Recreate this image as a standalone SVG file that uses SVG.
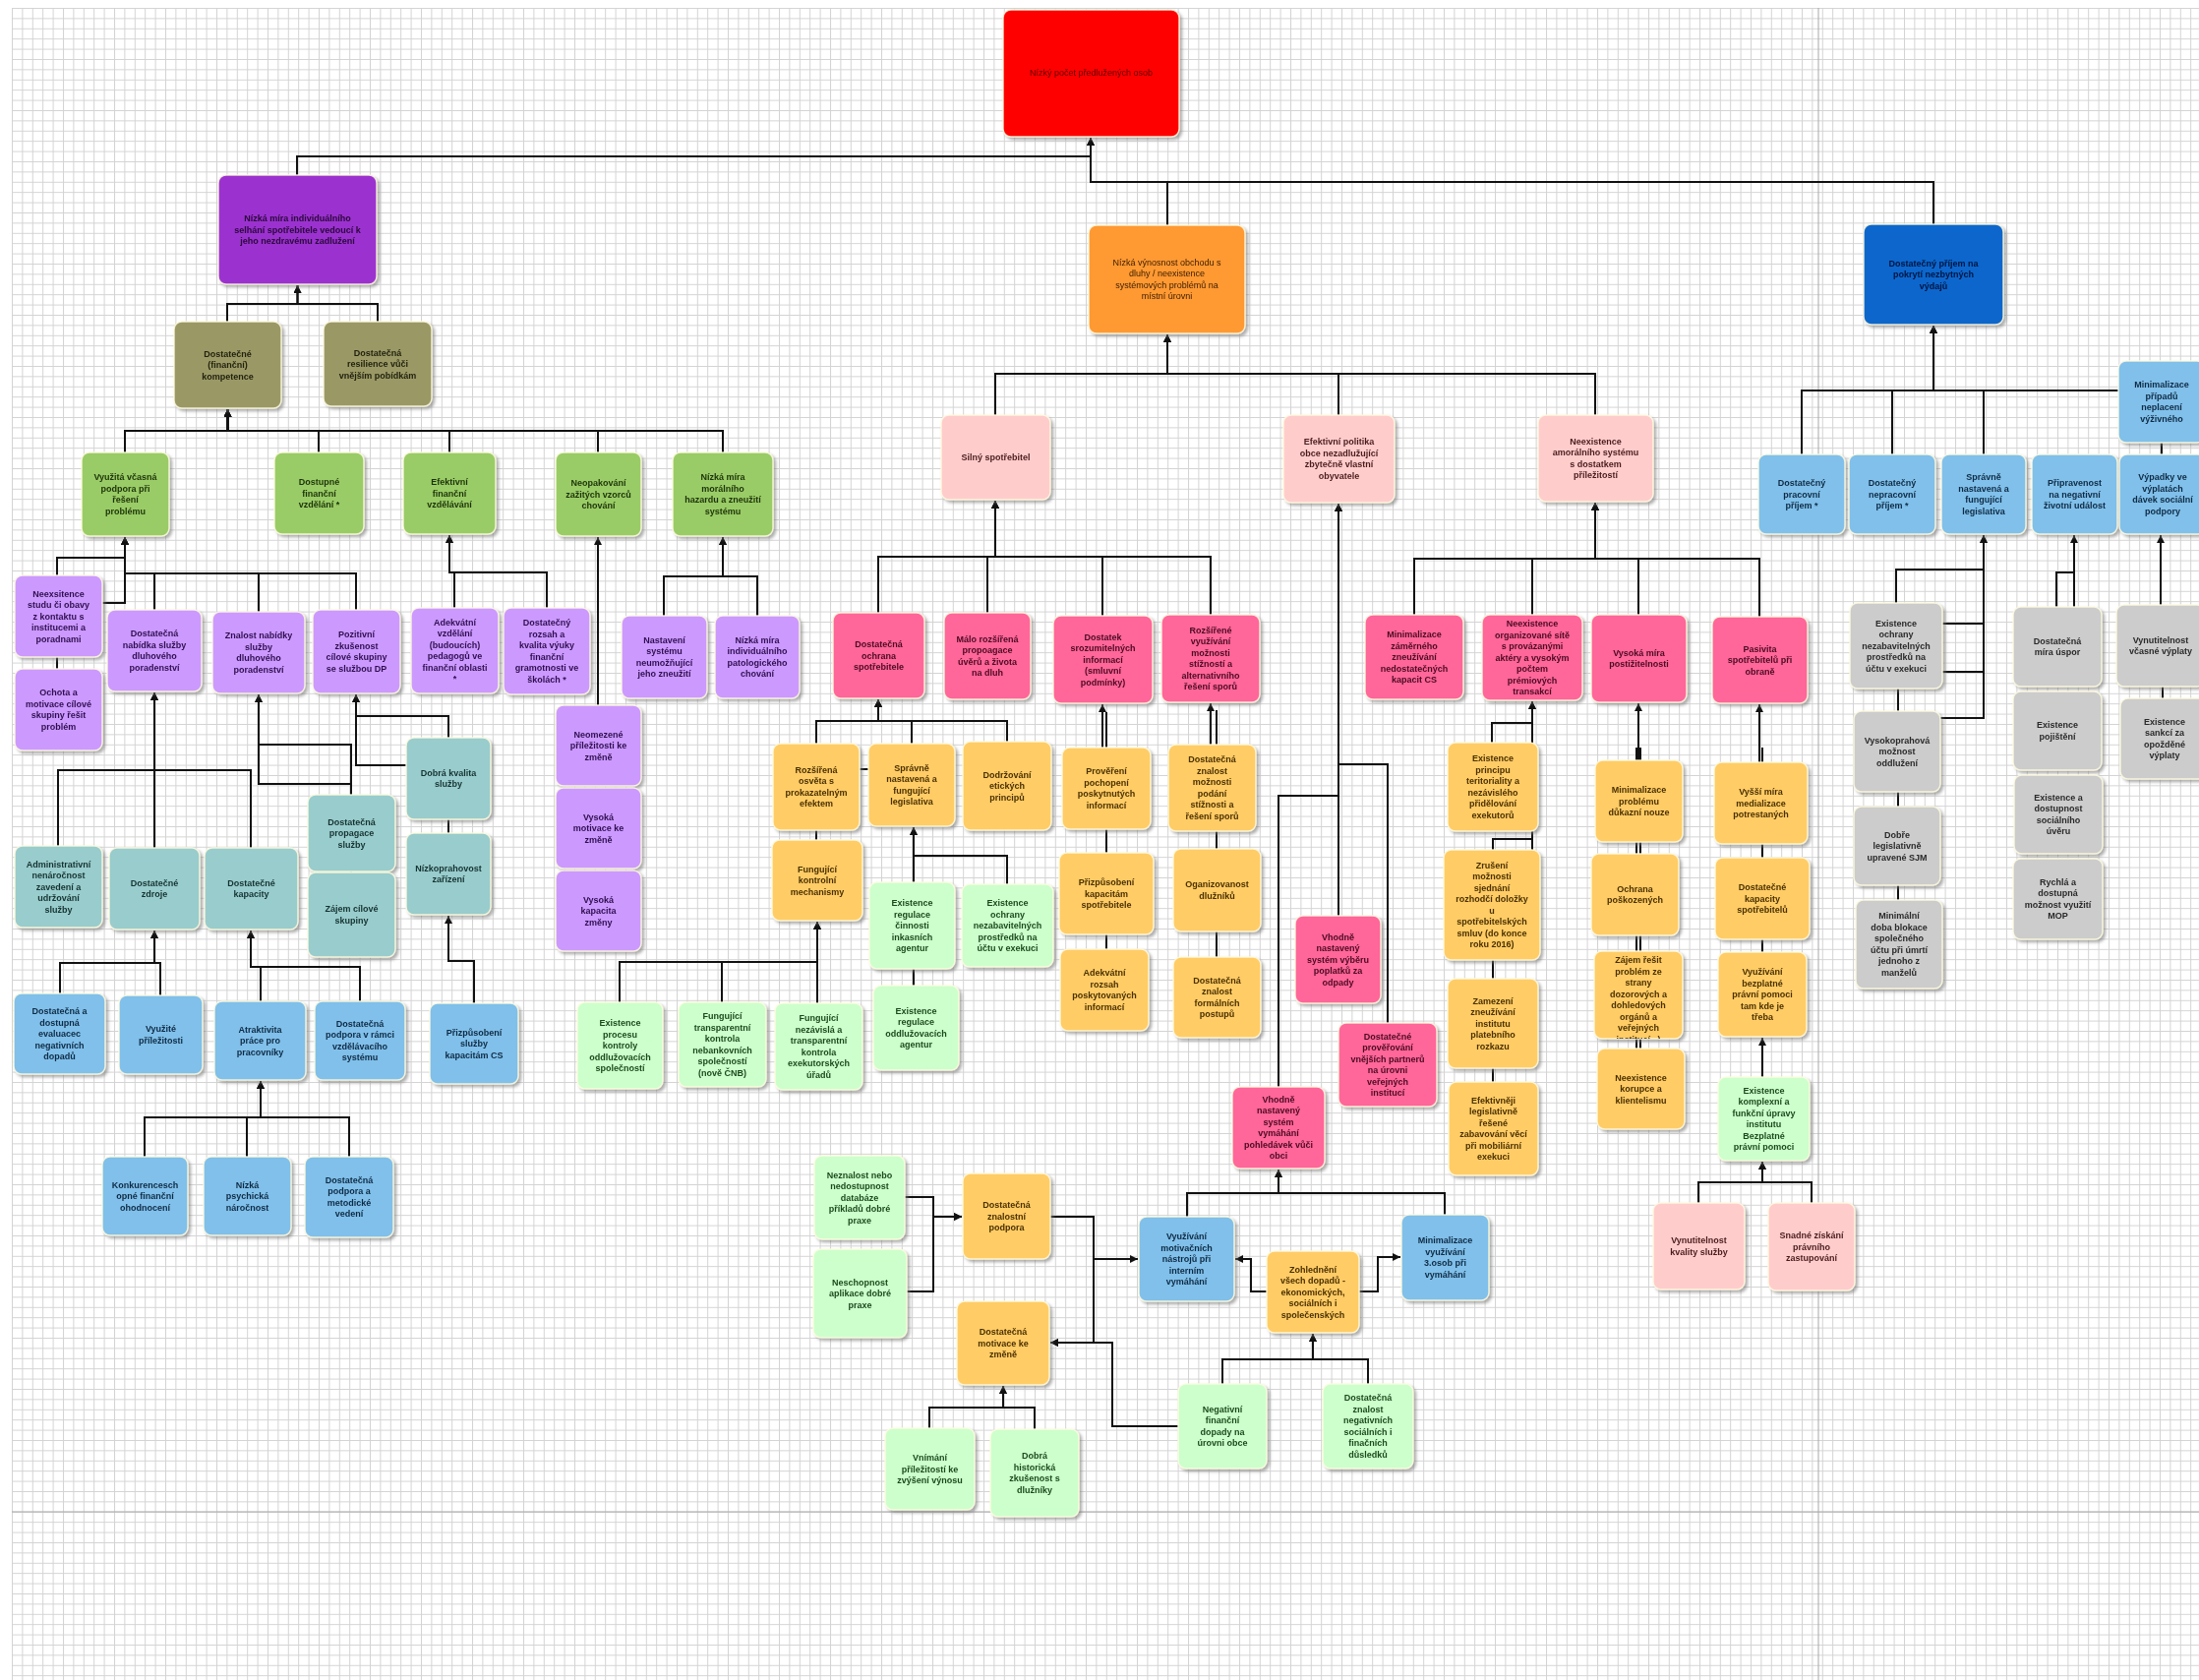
<svg xmlns="http://www.w3.org/2000/svg" width="2236" height="1708" viewBox="0 0 2236 1708">
<style>
text{font-family:"Liberation Sans",Arial,sans-serif;font-size:9px;font-weight:bold;text-anchor:middle}
.nd{filter:url(#sh)}
.nd rect{rx:8px;ry:8px;stroke:#fffbe0;stroke-opacity:.85;stroke-width:1.5}
.red rect{fill:#ff0000}.red text{fill:#5a0000;font-weight:normal}
.pur rect{fill:#9b30cf}.pur text{fill:#2a0a3a}
.oli rect{fill:#9a9966}.oli text{fill:#23230f}
.grn rect{fill:#99cc66}.grn text{fill:#1e3309}
.lpu rect{fill:#cc99ff}.lpu text{fill:#2f1050}
.tea rect{fill:#99cccc}.tea text{fill:#163333}
.lbl rect{fill:#80c0ea}.lbl text{fill:#0f2a44}
.org rect{fill:#ff9933}.org text{fill:#3d2000;font-weight:normal}
.dbl rect{fill:#0a66cc}.dbl text{fill:#001640}
.lpk rect{fill:#ffcccc}.lpk text{fill:#4a1c1c}
.hpk rect{fill:#ff6699}.hpk text{fill:#4a0a22}
.lor rect{fill:#ffcc66}.lor text{fill:#4a3000}
.lgr rect{fill:#ccffcc}.lgr text{fill:#1d4a1d}
.gry rect{fill:#cccccc}.gry text{fill:#2a2a2a}
#conn path{fill:none;stroke:#111;stroke-width:2}
#conn path.a{marker-end:url(#ar)}
</style>
<defs>
<pattern id="grid" x="12" y="8" width="10.4" height="10.4" patternUnits="userSpaceOnUse"><path d="M0,0.5H10.4M0.5,0V10.4" stroke="#d3d3d3" stroke-width="1" fill="none"/></pattern>
<filter id="sh" x="-10%" y="-10%" width="130%" height="130%"><feDropShadow dx="2.5" dy="2.5" stdDeviation="1.5" flood-color="#777" flood-opacity="0.6"/></filter>
<marker id="ar" viewBox="0 0 8 8" refX="8" refY="4" markerWidth="8" markerHeight="8" markerUnits="userSpaceOnUse" orient="auto"><path d="M0,0L8,4L0,8z" fill="#111"/></marker>
<clipPath id="c72"><rect x="1621" y="967" width="90" height="89"/></clipPath>
</defs>
<rect width="2236" height="1708" fill="#fff"/>
<rect x="12" y="8" width="2224" height="1700" fill="url(#grid)"/>
<path d="M1849,8V1708M12,1537H2236" stroke="#a8a8a8" stroke-width="1" fill="none"/>

<g id="conn">
<path class="a" d="M302,178V159H1109V140"/>
<path class="a" d="M1187,229V185H1109V140"/>
<path class="a" d="M1966,228V185H1109V140"/>
<path class="a" d="M231,327V309H302.5V290"/>
<path class="a" d="M384,327V309H302.5V290"/>
<path class="a" d="M127,460V438H231.5V416"/>
<path class="a" d="M324,460V438H231.5V416"/>
<path class="a" d="M457,460V438H231.5V416"/>
<path class="a" d="M608,460V438H231.5V416"/>
<path class="a" d="M735,460V438H231.5V416"/>
<path class="a" d="M58,680V567H127V546"/>
<path class="a" d="M104,613H127V546"/>
<path class="a" d="M157,620V583H127V546"/>
<path class="a" d="M263,622V583H127V546"/>
<path class="a" d="M362,620V583H127V546"/>
<path class="a" d="M462,618V582H457V544"/>
<path class="a" d="M556,618V582H457V544"/>
<path class="a" d="M608,717V546"/>
<path class="a" d="M675,626V586H735V546"/>
<path class="a" d="M770,626V586H735V546"/>
<path class="a" d="M59,860V783H157V704"/>
<path class="a" d="M157,862V704"/>
<path class="a" d="M255,862V783H157V704"/>
<path class="a" d="M357,808V757H263V706"/>
<path class="a" d="M357,887V797H263V706"/>
<path class="a" d="M413,778H362V706"/>
<path class="a" d="M456,847V728H362V706"/>
<path class="a" d="M482,1020V977H456V931"/>
<path class="a" d="M61,1010V979H157V946"/>
<path class="a" d="M163,1012V979H157V946"/>
<path class="a" d="M265,1018V983H255V946"/>
<path class="a" d="M366,1018V983H255V946"/>
<path class="a" d="M147,1176V1136H265V1099"/>
<path class="a" d="M251,1176V1136H265V1099"/>
<path class="a" d="M355,1176V1136H265V1099"/>
<path class="a" d="M1012,422V380H1187V340"/>
<path class="a" d="M1361,422V380H1187V340"/>
<path class="a" d="M1622,422V380H1187V340"/>
<path class="a" d="M893,623V566H1012V509"/>
<path class="a" d="M1004,623V566H1012V509"/>
<path class="a" d="M1121,626V566H1012V509"/>
<path class="a" d="M1231,625V566H1012V509"/>
<path class="a" d="M830,854V733H893V711"/>
<path class="a" d="M927,756V733H893V711"/>
<path class="a" d="M1024,754V733H893V711"/>
<path d="M874,782H883"/>
<path class="a" d="M630,1019V978H831V937"/>
<path class="a" d="M734,1019V978H831V937"/>
<path class="a" d="M831,1020V937"/>
<path class="a" d="M929,1002V841"/>
<path class="a" d="M1024,899V870H929V841"/>
<path class="a" d="M1121,760V716"/>
<path d="M1125,965V724"/>
<path class="a" d="M1231,757V715"/>
<path d="M1237,973V722"/>
<path class="a" d="M1361,931V512"/>
<path class="a" d="M1411,1040V777H1361V512"/>
<path class="a" d="M1300,1105V809H1361V512"/>
<path class="a" d="M1438,625V568H1622V511"/>
<path class="a" d="M1558,625V568H1622V511"/>
<path class="a" d="M1666,625V568H1622V511"/>
<path class="a" d="M1789,627V568H1622V511"/>
<path class="a" d="M1517,755V735H1558V713"/>
<path class="a" d="M1558,864V713"/>
<path d="M1518,1100V853H1558"/>
<path class="a" d="M1666,773V715"/>
<path d="M1664,1066V760"/>
<path d="M1668,1066V760"/>
<path class="a" d="M1789,775V716"/>
<path d="M1792,968V760"/>
<path class="a" d="M1792,1095V1055"/>
<path class="a" d="M1727,1223V1202H1792V1181"/>
<path class="a" d="M1842,1223V1202H1792V1181"/>
<path class="a" d="M920,1217H949V1237H978"/>
<path class="a" d="M922,1313H949V1237H978"/>
<path class="a" d="M1068,1237H1112V1280H1157"/>
<path class="a" d="M1068,1237H1112V1365H1068"/>
<path class="a" d="M1198,1450H1131V1365H1068"/>
<path class="a" d="M1288,1313H1272V1280H1256"/>
<path class="a" d="M1382,1313H1401V1278H1424"/>
<path class="a" d="M1207,1237V1213H1300V1189"/>
<path class="a" d="M1469,1235V1213H1300V1189"/>
<path class="a" d="M1243,1407V1382H1335V1356"/>
<path class="a" d="M1391,1407V1382H1335V1356"/>
<path class="a" d="M945,1452V1431H1020V1409"/>
<path class="a" d="M1052,1453V1431H1020V1409"/>
<path class="a" d="M1832,462V397H1966V331"/>
<path class="a" d="M1924,462V397H1966V331"/>
<path class="a" d="M2017,462V397H1966V331"/>
<path class="a" d="M2154,397H1966V331"/>
<path d="M2198,462V448"/>
<path class="a" d="M1928,613V579H2017V544"/>
<path d="M1975,634H2017M1975,683H2017"/>
<path class="a" d="M1973,730H2017V544"/>
<path d="M1930,915V700"/>
<path class="a" d="M2109,617V544"/>
<path d="M2091,617V582H2109"/>
<path class="a" d="M2197,615V544"/>
<path d="M2199,710V698"/>
</g>

<g id="n1" class="nd red"><rect x="1020" y="10" width="179" height="129"/><text x="1109.5" y="77">Nízký počet předlužených osob</text></g>
<g id="n2" class="nd pur"><rect x="222" y="178" width="161" height="111"/><text x="302.5" y="225"><tspan x="302.5">Nízká míra individuálního</tspan><tspan x="302.5" dy="11.5">selhání spotřebitele vedoucí k</tspan><tspan x="302.5" dy="11.5">jeho nezdravému zadlužení</tspan></text></g>
<g id="n3" class="nd org"><rect x="1107" y="229" width="159" height="110"/><text x="1186.5" y="269.75"><tspan x="1186.5">Nízká výnosnost obchodu s</tspan><tspan x="1186.5" dy="11.5">dluhy / neexistence</tspan><tspan x="1186.5" dy="11.5">systémových problémů na</tspan><tspan x="1186.5" dy="11.5">místní úrovni</tspan></text></g>
<g id="n4" class="nd dbl"><rect x="1895" y="228" width="142" height="102"/><text x="1966" y="270.5"><tspan x="1966">Dostatečný příjem na</tspan><tspan x="1966" dy="11.5">pokrytí nezbytných</tspan><tspan x="1966" dy="11.5">výdajů</tspan></text></g>
<g id="n5" class="nd oli"><rect x="177" y="327" width="109" height="88"/><text x="231.5" y="362.5"><tspan x="231.5">Dostatečné</tspan><tspan x="231.5" dy="11.5">(finanční)</tspan><tspan x="231.5" dy="11.5">kompetence</tspan></text></g>
<g id="n6" class="nd oli"><rect x="329" y="327" width="110" height="86"/><text x="384" y="361.5"><tspan x="384">Dostatečná</tspan><tspan x="384" dy="11.5">resilience vůči</tspan><tspan x="384" dy="11.5">vnějším pobídkám</tspan></text></g>
<g id="n7" class="nd grn"><rect x="83" y="460" width="89" height="85"/><text x="127.5" y="488.25"><tspan x="127.5">Využitá včasná</tspan><tspan x="127.5" dy="11.5">podpora při</tspan><tspan x="127.5" dy="11.5">řešení</tspan><tspan x="127.5" dy="11.5">problému</tspan></text></g>
<g id="n8" class="nd grn"><rect x="279" y="460" width="91" height="83"/><text x="324.5" y="493"><tspan x="324.5">Dostupné</tspan><tspan x="324.5" dy="11.5">finanční</tspan><tspan x="324.5" dy="11.5">vzdělání *</tspan></text></g>
<g id="n9" class="nd grn"><rect x="410" y="460" width="94" height="83"/><text x="457" y="493"><tspan x="457">Efektivní</tspan><tspan x="457" dy="11.5">finanční</tspan><tspan x="457" dy="11.5">vzdělávání</tspan></text></g>
<g id="n10" class="nd grn"><rect x="565" y="460" width="87" height="85"/><text x="608.5" y="494"><tspan x="608.5">Neopakování</tspan><tspan x="608.5" dy="11.5">zažitých vzorců</tspan><tspan x="608.5" dy="11.5">chování</tspan></text></g>
<g id="n11" class="nd grn"><rect x="684" y="460" width="102" height="85"/><text x="735" y="488.25"><tspan x="735">Nízká míra</tspan><tspan x="735" dy="11.5">morálního</tspan><tspan x="735" dy="11.5">hazardu a zneužití</tspan><tspan x="735" dy="11.5">systému</tspan></text></g>
<g id="n12" class="nd lpu"><rect x="15" y="585" width="89" height="83"/><text x="59.5" y="606.5"><tspan x="59.5">Neexsitence</tspan><tspan x="59.5" dy="11.5">studu či obavy</tspan><tspan x="59.5" dy="11.5">z kontaktu s</tspan><tspan x="59.5" dy="11.5">institucemi a</tspan><tspan x="59.5" dy="11.5">poradnami</tspan></text></g>
<g id="n13" class="nd lpu"><rect x="15" y="680" width="89" height="83"/><text x="59.5" y="707.25"><tspan x="59.5">Ochota a</tspan><tspan x="59.5" dy="11.5">motivace cílové</tspan><tspan x="59.5" dy="11.5">skupiny řešit</tspan><tspan x="59.5" dy="11.5">problém</tspan></text></g>
<g id="n14" class="nd lpu"><rect x="109" y="620" width="96" height="83"/><text x="157" y="647.25"><tspan x="157">Dostatečná</tspan><tspan x="157" dy="11.5">nabídka služby</tspan><tspan x="157" dy="11.5">dluhového</tspan><tspan x="157" dy="11.5">poradenství</tspan></text></g>
<g id="n15" class="nd lpu"><rect x="216" y="622" width="94" height="83"/><text x="263" y="649.25"><tspan x="263">Znalost nabídky</tspan><tspan x="263" dy="11.5">služby</tspan><tspan x="263" dy="11.5">dluhového</tspan><tspan x="263" dy="11.5">poradenství</tspan></text></g>
<g id="n16" class="nd lpu"><rect x="318" y="620" width="89" height="85"/><text x="362.5" y="648.25"><tspan x="362.5">Pozitivní</tspan><tspan x="362.5" dy="11.5">zkušenost</tspan><tspan x="362.5" dy="11.5">cílové skupiny</tspan><tspan x="362.5" dy="11.5">se službou DP</tspan></text></g>
<g id="n17" class="nd lpu"><rect x="418" y="618" width="89" height="87"/><text x="462.5" y="635.75"><tspan x="462.5">Adekvátní</tspan><tspan x="462.5" dy="11.5">vzdělání</tspan><tspan x="462.5" dy="11.5">(budoucích)</tspan><tspan x="462.5" dy="11.5">pedagogů ve</tspan><tspan x="462.5" dy="11.5">finanční oblasti</tspan><tspan x="462.5" dy="11.5">*</tspan></text></g>
<g id="n18" class="nd lpu"><rect x="512" y="618" width="88" height="88"/><text x="556" y="636.25"><tspan x="556">Dostatečný</tspan><tspan x="556" dy="11.5">rozsah a</tspan><tspan x="556" dy="11.5">kvalita výuky</tspan><tspan x="556" dy="11.5">finanční</tspan><tspan x="556" dy="11.5">gramotnosti ve</tspan><tspan x="556" dy="11.5">školách *</tspan></text></g>
<g id="n19" class="nd lpu"><rect x="632" y="626" width="87" height="84"/><text x="675.5" y="653.75"><tspan x="675.5">Nastavení</tspan><tspan x="675.5" dy="11.5">systému</tspan><tspan x="675.5" dy="11.5">neumožňující</tspan><tspan x="675.5" dy="11.5">jeho zneužití</tspan></text></g>
<g id="n20" class="nd lpu"><rect x="727" y="626" width="86" height="84"/><text x="770" y="653.75"><tspan x="770">Nízká míra</tspan><tspan x="770" dy="11.5">individuálního</tspan><tspan x="770" dy="11.5">patologického</tspan><tspan x="770" dy="11.5">chování</tspan></text></g>
<g id="n21" class="nd lpu"><rect x="565" y="717" width="87" height="82"/><text x="608.5" y="749.5"><tspan x="608.5">Neomezené</tspan><tspan x="608.5" dy="11.5">příležitosti ke</tspan><tspan x="608.5" dy="11.5">změně</tspan></text></g>
<g id="n22" class="nd lpu"><rect x="565" y="801" width="87" height="82"/><text x="608.5" y="833.5"><tspan x="608.5">Vysoká</tspan><tspan x="608.5" dy="11.5">motivace ke</tspan><tspan x="608.5" dy="11.5">změně</tspan></text></g>
<g id="n23" class="nd lpu"><rect x="565" y="885" width="87" height="82"/><text x="608.5" y="917.5"><tspan x="608.5">Vysoká</tspan><tspan x="608.5" dy="11.5">kapacita</tspan><tspan x="608.5" dy="11.5">změny</tspan></text></g>
<g id="n24" class="nd tea"><rect x="413" y="750" width="86" height="83"/><text x="456" y="788.75"><tspan x="456">Dobrá kvalita</tspan><tspan x="456" dy="11.5">služby</tspan></text></g>
<g id="n25" class="nd tea"><rect x="413" y="847" width="86" height="83"/><text x="456" y="885.75"><tspan x="456">Nízkoprahovost</tspan><tspan x="456" dy="11.5">zařízení</tspan></text></g>
<g id="n26" class="nd tea"><rect x="313" y="808" width="89" height="78"/><text x="357.5" y="838.5"><tspan x="357.5">Dostatečná</tspan><tspan x="357.5" dy="11.5">propagace</tspan><tspan x="357.5" dy="11.5">služby</tspan></text></g>
<g id="n27" class="nd tea"><rect x="313" y="887" width="89" height="86"/><text x="357.5" y="927.25"><tspan x="357.5">Zájem cílové</tspan><tspan x="357.5" dy="11.5">skupiny</tspan></text></g>
<g id="n28" class="nd tea"><rect x="15" y="860" width="89" height="83"/><text x="59.5" y="881.5"><tspan x="59.5">Administrativní</tspan><tspan x="59.5" dy="11.5">nenáročnost</tspan><tspan x="59.5" dy="11.5">zavedení a</tspan><tspan x="59.5" dy="11.5">udržování</tspan><tspan x="59.5" dy="11.5">služby</tspan></text></g>
<g id="n29" class="nd tea"><rect x="111" y="862" width="92" height="83"/><text x="157" y="900.75"><tspan x="157">Dostatečné</tspan><tspan x="157" dy="11.5">zdroje</tspan></text></g>
<g id="n30" class="nd tea"><rect x="208" y="862" width="95" height="83"/><text x="255.5" y="900.75"><tspan x="255.5">Dostatečné</tspan><tspan x="255.5" dy="11.5">kapacity</tspan></text></g>
<g id="n31" class="nd lbl"><rect x="14" y="1010" width="93" height="82"/><text x="60.5" y="1031"><tspan x="60.5">Dostatečná a</tspan><tspan x="60.5" dy="11.5">dostupná</tspan><tspan x="60.5" dy="11.5">evaluacec</tspan><tspan x="60.5" dy="11.5">negativních</tspan><tspan x="60.5" dy="11.5">dopadů</tspan></text></g>
<g id="n32" class="nd lbl"><rect x="121" y="1012" width="85" height="80"/><text x="163.5" y="1049.25"><tspan x="163.5">Využité</tspan><tspan x="163.5" dy="11.5">příležitosti</tspan></text></g>
<g id="n33" class="nd lbl"><rect x="218" y="1018" width="93" height="80"/><text x="264.5" y="1049.5"><tspan x="264.5">Atraktivita</tspan><tspan x="264.5" dy="11.5">práce pro</tspan><tspan x="264.5" dy="11.5">pracovníky</tspan></text></g>
<g id="n34" class="nd lbl"><rect x="320" y="1018" width="92" height="80"/><text x="366" y="1043.75"><tspan x="366">Dostatečná</tspan><tspan x="366" dy="11.5">podpora v rámci</tspan><tspan x="366" dy="11.5">vzdělávacího</tspan><tspan x="366" dy="11.5">systému</tspan></text></g>
<g id="n35" class="nd lbl"><rect x="437" y="1020" width="90" height="82"/><text x="482" y="1052.5"><tspan x="482">Přizpůsobení</tspan><tspan x="482" dy="11.5">služby</tspan><tspan x="482" dy="11.5">kapacitám CS</tspan></text></g>
<g id="n36" class="nd lbl"><rect x="104" y="1176" width="87" height="80"/><text x="147.5" y="1207.5"><tspan x="147.5">Konkurencesch</tspan><tspan x="147.5" dy="11.5">opné finanční</tspan><tspan x="147.5" dy="11.5">ohodnocení</tspan></text></g>
<g id="n37" class="nd lbl"><rect x="207" y="1176" width="89" height="80"/><text x="251.5" y="1207.5"><tspan x="251.5">Nízká</tspan><tspan x="251.5" dy="11.5">psychická</tspan><tspan x="251.5" dy="11.5">náročnost</tspan></text></g>
<g id="n38" class="nd lbl"><rect x="310" y="1176" width="90" height="82"/><text x="355" y="1202.75"><tspan x="355">Dostatečná</tspan><tspan x="355" dy="11.5">podpora a</tspan><tspan x="355" dy="11.5">metodické</tspan><tspan x="355" dy="11.5">vedení</tspan></text></g>
<g id="n39" class="nd lpk"><rect x="957" y="422" width="111" height="86"/><text x="1012.5" y="468">Silný spotřebitel</text></g>
<g id="n40" class="nd lpk"><rect x="1305" y="422" width="113" height="89"/><text x="1361.5" y="452.25"><tspan x="1361.5">Efektivní politika</tspan><tspan x="1361.5" dy="11.5">obce nezadlužující</tspan><tspan x="1361.5" dy="11.5">zbytečně vlastní</tspan><tspan x="1361.5" dy="11.5">obyvatele</tspan></text></g>
<g id="n41" class="nd lpk"><rect x="1564" y="422" width="117" height="88"/><text x="1622.5" y="451.75"><tspan x="1622.5">Neexistence</tspan><tspan x="1622.5" dy="11.5">amorálního systému</tspan><tspan x="1622.5" dy="11.5">s dostatkem</tspan><tspan x="1622.5" dy="11.5">příležitostí</tspan></text></g>
<g id="n42" class="nd hpk"><rect x="847" y="623" width="93" height="87"/><text x="893.5" y="658"><tspan x="893.5">Dostatečná</tspan><tspan x="893.5" dy="11.5">ochrana</tspan><tspan x="893.5" dy="11.5">spotřebitele</tspan></text></g>
<g id="n43" class="nd hpk"><rect x="960" y="623" width="88" height="88"/><text x="1004" y="652.75"><tspan x="1004">Málo rozšířená</tspan><tspan x="1004" dy="11.5">propoagace</tspan><tspan x="1004" dy="11.5">úvěrů a života</tspan><tspan x="1004" dy="11.5">na dluh</tspan></text></g>
<g id="n44" class="nd hpk"><rect x="1071" y="626" width="101" height="89"/><text x="1121.5" y="650.5"><tspan x="1121.5">Dostatek</tspan><tspan x="1121.5" dy="11.5">srozumitelných</tspan><tspan x="1121.5" dy="11.5">informací</tspan><tspan x="1121.5" dy="11.5">(smluvní</tspan><tspan x="1121.5" dy="11.5">podmínky)</tspan></text></g>
<g id="n45" class="nd hpk"><rect x="1181" y="625" width="100" height="89"/><text x="1231" y="643.75"><tspan x="1231">Rozšířené</tspan><tspan x="1231" dy="11.5">využívání</tspan><tspan x="1231" dy="11.5">možnosti</tspan><tspan x="1231" dy="11.5">stížností a</tspan><tspan x="1231" dy="11.5">alternativního</tspan><tspan x="1231" dy="11.5">řešení sporů</tspan></text></g>
<g id="n46" class="nd lor"><rect x="786" y="756" width="88" height="88"/><text x="830" y="785.75"><tspan x="830">Rozšířená</tspan><tspan x="830" dy="11.5">osvěta s</tspan><tspan x="830" dy="11.5">prokazatelným</tspan><tspan x="830" dy="11.5">efektem</tspan></text></g>
<g id="n47" class="nd lor"><rect x="883" y="756" width="88" height="84"/><text x="927" y="783.75"><tspan x="927">Správně</tspan><tspan x="927" dy="11.5">nastavená a</tspan><tspan x="927" dy="11.5">fungující</tspan><tspan x="927" dy="11.5">legislativa</tspan></text></g>
<g id="n48" class="nd lor"><rect x="979" y="754" width="90" height="90"/><text x="1024" y="790.5"><tspan x="1024">Dodržování</tspan><tspan x="1024" dy="11.5">etických</tspan><tspan x="1024" dy="11.5">principů</tspan></text></g>
<g id="n49" class="nd lor"><rect x="785" y="854" width="92" height="82"/><text x="831" y="886.5"><tspan x="831">Fungující</tspan><tspan x="831" dy="11.5">kontrolní</tspan><tspan x="831" dy="11.5">mechanismy</tspan></text></g>
<g id="n50" class="nd lgr"><rect x="587" y="1019" width="87" height="88"/><text x="630.5" y="1043"><tspan x="630.5">Existence</tspan><tspan x="630.5" dy="11.5">procesu</tspan><tspan x="630.5" dy="11.5">kontroly</tspan><tspan x="630.5" dy="11.5">oddlužovacích</tspan><tspan x="630.5" dy="11.5">společností</tspan></text></g>
<g id="n51" class="nd lgr"><rect x="690" y="1019" width="89" height="86"/><text x="734.5" y="1036.25"><tspan x="734.5">Fungující</tspan><tspan x="734.5" dy="11.5">transparentní</tspan><tspan x="734.5" dy="11.5">kontrola</tspan><tspan x="734.5" dy="11.5">nebankovních</tspan><tspan x="734.5" dy="11.5">společností</tspan><tspan x="734.5" dy="11.5">(nově ČNB)</tspan></text></g>
<g id="n52" class="nd lgr"><rect x="788" y="1020" width="89" height="88"/><text x="832.5" y="1038.25"><tspan x="832.5">Fungující</tspan><tspan x="832.5" dy="11.5">nezávislá a</tspan><tspan x="832.5" dy="11.5">transparentní</tspan><tspan x="832.5" dy="11.5">kontrola</tspan><tspan x="832.5" dy="11.5">exekutorských</tspan><tspan x="832.5" dy="11.5">úřadů</tspan></text></g>
<g id="n53" class="nd lgr"><rect x="884" y="897" width="87" height="88"/><text x="927.5" y="921"><tspan x="927.5">Existence</tspan><tspan x="927.5" dy="11.5">regulace</tspan><tspan x="927.5" dy="11.5">činnosti</tspan><tspan x="927.5" dy="11.5">inkasních</tspan><tspan x="927.5" dy="11.5">agentur</tspan></text></g>
<g id="n54" class="nd lgr"><rect x="978" y="899" width="93" height="84"/><text x="1024.5" y="921"><tspan x="1024.5">Existence</tspan><tspan x="1024.5" dy="11.5">ochrany</tspan><tspan x="1024.5" dy="11.5">nezabavitelných</tspan><tspan x="1024.5" dy="11.5">prostředků na</tspan><tspan x="1024.5" dy="11.5">účtu v exekuci</tspan></text></g>
<g id="n55" class="nd lgr"><rect x="888" y="1002" width="87" height="86"/><text x="931.5" y="1030.75"><tspan x="931.5">Existence</tspan><tspan x="931.5" dy="11.5">regulace</tspan><tspan x="931.5" dy="11.5">oddlužovacích</tspan><tspan x="931.5" dy="11.5">agentur</tspan></text></g>
<g id="n56" class="nd lor"><rect x="1080" y="760" width="90" height="83"/><text x="1125" y="787.25"><tspan x="1125">Prověření</tspan><tspan x="1125" dy="11.5">pochopení</tspan><tspan x="1125" dy="11.5">poskytnutých</tspan><tspan x="1125" dy="11.5">informací</tspan></text></g>
<g id="n57" class="nd lor"><rect x="1077" y="867" width="96" height="83"/><text x="1125" y="900"><tspan x="1125">Přizpůsobení</tspan><tspan x="1125" dy="11.5">kapacitám</tspan><tspan x="1125" dy="11.5">spotřebitele</tspan></text></g>
<g id="n58" class="nd lor"><rect x="1078" y="965" width="90" height="83"/><text x="1123" y="992.25"><tspan x="1123">Adekvátní</tspan><tspan x="1123" dy="11.5">rozsah</tspan><tspan x="1123" dy="11.5">poskytovaných</tspan><tspan x="1123" dy="11.5">informací</tspan></text></g>
<g id="n59" class="nd lor"><rect x="1188" y="757" width="89" height="88"/><text x="1232.5" y="775.25"><tspan x="1232.5">Dostatečná</tspan><tspan x="1232.5" dy="11.5">znalost</tspan><tspan x="1232.5" dy="11.5">možnosti</tspan><tspan x="1232.5" dy="11.5">podání</tspan><tspan x="1232.5" dy="11.5">stížnosti a</tspan><tspan x="1232.5" dy="11.5">řešení sporů</tspan></text></g>
<g id="n60" class="nd lor"><rect x="1193" y="863" width="89" height="84"/><text x="1237.5" y="902.25"><tspan x="1237.5">Oganizovanost</tspan><tspan x="1237.5" dy="11.5">dlužníků</tspan></text></g>
<g id="n61" class="nd lor"><rect x="1193" y="973" width="89" height="82"/><text x="1237.5" y="999.75"><tspan x="1237.5">Dostatečná</tspan><tspan x="1237.5" dy="11.5">znalost</tspan><tspan x="1237.5" dy="11.5">formálních</tspan><tspan x="1237.5" dy="11.5">postupů</tspan></text></g>
<g id="n62" class="nd hpk"><rect x="1388" y="625" width="100" height="86"/><text x="1438" y="648"><tspan x="1438">Minimalizace</tspan><tspan x="1438" dy="11.5">záměrného</tspan><tspan x="1438" dy="11.5">zneužívání</tspan><tspan x="1438" dy="11.5">nedostatečných</tspan><tspan x="1438" dy="11.5">kapacit CS</tspan></text></g>
<g id="n63" class="nd hpk"><rect x="1507" y="625" width="102" height="87"/><text x="1558" y="637"><tspan x="1558">Neexistence</tspan><tspan x="1558" dy="11.5">organizované sítě</tspan><tspan x="1558" dy="11.5">s provázanými</tspan><tspan x="1558" dy="11.5">aktéry a vysokým</tspan><tspan x="1558" dy="11.5">počtem</tspan><tspan x="1558" dy="11.5">prémiových</tspan><tspan x="1558" dy="11.5">transakcí</tspan></text></g>
<g id="n64" class="nd hpk"><rect x="1618" y="625" width="97" height="89"/><text x="1666.5" y="666.75"><tspan x="1666.5">Vysoká míra</tspan><tspan x="1666.5" dy="11.5">postižitelnosti</tspan></text></g>
<g id="n65" class="nd hpk"><rect x="1741" y="627" width="97" height="88"/><text x="1789.5" y="662.5"><tspan x="1789.5">Pasivita</tspan><tspan x="1789.5" dy="11.5">spotřebitelů při</tspan><tspan x="1789.5" dy="11.5">obraně</tspan></text></g>
<g id="n66" class="nd lor"><rect x="1472" y="755" width="92" height="90"/><text x="1518" y="774.25"><tspan x="1518">Existence</tspan><tspan x="1518" dy="11.5">principu</tspan><tspan x="1518" dy="11.5">teritoriality a</tspan><tspan x="1518" dy="11.5">nezávislého</tspan><tspan x="1518" dy="11.5">přidělování</tspan><tspan x="1518" dy="11.5">exekutorů</tspan></text></g>
<g id="n67" class="nd lor"><rect x="1468" y="864" width="98" height="112"/><text x="1517" y="882.75"><tspan x="1517">Zrušení</tspan><tspan x="1517" dy="11.5">možnosti</tspan><tspan x="1517" dy="11.5">sjednání</tspan><tspan x="1517" dy="11.5">rozhodčí doložky</tspan><tspan x="1517" dy="11.5">u</tspan><tspan x="1517" dy="11.5">spotřebitelských</tspan><tspan x="1517" dy="11.5">smluv (do konce</tspan><tspan x="1517" dy="11.5">roku 2016)</tspan></text></g>
<g id="n68" class="nd lor"><rect x="1472" y="995" width="92" height="91"/><text x="1518" y="1020.5"><tspan x="1518">Zamezení</tspan><tspan x="1518" dy="11.5">zneužívání</tspan><tspan x="1518" dy="11.5">institutu</tspan><tspan x="1518" dy="11.5">platebního</tspan><tspan x="1518" dy="11.5">rozkazu</tspan></text></g>
<g id="n69" class="nd lor"><rect x="1473" y="1100" width="91" height="95"/><text x="1518.5" y="1121.75"><tspan x="1518.5">Efektivněji</tspan><tspan x="1518.5" dy="11.5">legislativně</tspan><tspan x="1518.5" dy="11.5">řešené</tspan><tspan x="1518.5" dy="11.5">zabavování věcí</tspan><tspan x="1518.5" dy="11.5">při mobiliární</tspan><tspan x="1518.5" dy="11.5">exekuci</tspan></text></g>
<g id="n70" class="nd lor"><rect x="1622" y="773" width="89" height="83"/><text x="1666.5" y="806"><tspan x="1666.5">Minimalizace</tspan><tspan x="1666.5" dy="11.5">problému</tspan><tspan x="1666.5" dy="11.5">důkazní nouze</tspan></text></g>
<g id="n71" class="nd lor"><rect x="1618" y="868" width="89" height="83"/><text x="1662.5" y="906.75"><tspan x="1662.5">Ochrana</tspan><tspan x="1662.5" dy="11.5">poškozených</tspan></text></g>
<g id="n72" class="nd lor"><rect x="1621" y="967" width="90" height="89"/><text x="1666" y="979" clip-path="url(#c72)"><tspan x="1666">Zájem řešit</tspan><tspan x="1666" dy="11.5">problém ze</tspan><tspan x="1666" dy="11.5">strany</tspan><tspan x="1666" dy="11.5">dozorových a</tspan><tspan x="1666" dy="11.5">dohledových</tspan><tspan x="1666" dy="11.5">orgánů a</tspan><tspan x="1666" dy="11.5">veřejných</tspan><tspan x="1666" dy="11.5">institucí...)</tspan></text></g>
<g id="n73" class="nd lor"><rect x="1624" y="1066" width="89" height="82"/><text x="1668.5" y="1098.5"><tspan x="1668.5">Neexistence</tspan><tspan x="1668.5" dy="11.5">korupce a</tspan><tspan x="1668.5" dy="11.5">klientelismu</tspan></text></g>
<g id="n74" class="nd lor"><rect x="1743" y="775" width="95" height="83"/><text x="1790.5" y="808"><tspan x="1790.5">Vyšší míra</tspan><tspan x="1790.5" dy="11.5">medializace</tspan><tspan x="1790.5" dy="11.5">potrestaných</tspan></text></g>
<g id="n75" class="nd lor"><rect x="1744" y="872" width="96" height="83"/><text x="1792" y="905"><tspan x="1792">Dostatečné</tspan><tspan x="1792" dy="11.5">kapacity</tspan><tspan x="1792" dy="11.5">spotřebitelů</tspan></text></g>
<g id="n76" class="nd lor"><rect x="1747" y="968" width="90" height="86"/><text x="1792" y="991"><tspan x="1792">Využívání</tspan><tspan x="1792" dy="11.5">bezplatné</tspan><tspan x="1792" dy="11.5">právní pomoci</tspan><tspan x="1792" dy="11.5">tam kde je</tspan><tspan x="1792" dy="11.5">třeba</tspan></text></g>
<g id="n77" class="nd lgr"><rect x="1747" y="1095" width="93" height="85"/><text x="1793.5" y="1111.75"><tspan x="1793.5">Existence</tspan><tspan x="1793.5" dy="11.5">komplexní a</tspan><tspan x="1793.5" dy="11.5">funkční úpravy</tspan><tspan x="1793.5" dy="11.5">institutu</tspan><tspan x="1793.5" dy="11.5">Bezplatné</tspan><tspan x="1793.5" dy="11.5">právní pomoci</tspan></text></g>
<g id="n78" class="nd lpk"><rect x="1681" y="1223" width="93" height="88"/><text x="1727.5" y="1264.25"><tspan x="1727.5">Vynutitelnost</tspan><tspan x="1727.5" dy="11.5">kvality služby</tspan></text></g>
<g id="n79" class="nd lpk"><rect x="1798" y="1223" width="88" height="89"/><text x="1842" y="1259"><tspan x="1842">Snadné získání</tspan><tspan x="1842" dy="11.5">právního</tspan><tspan x="1842" dy="11.5">zastupování</tspan></text></g>
<g id="n80" class="nd hpk"><rect x="1317" y="931" width="87" height="89"/><text x="1360.5" y="955.5"><tspan x="1360.5">Vhodně</tspan><tspan x="1360.5" dy="11.5">nastavený</tspan><tspan x="1360.5" dy="11.5">systém výběru</tspan><tspan x="1360.5" dy="11.5">poplatků za</tspan><tspan x="1360.5" dy="11.5">odpady</tspan></text></g>
<g id="n81" class="nd hpk"><rect x="1361" y="1040" width="100" height="85"/><text x="1411" y="1056.75"><tspan x="1411">Dostatečné</tspan><tspan x="1411" dy="11.5">prověřování</tspan><tspan x="1411" dy="11.5">vnějších partnerů</tspan><tspan x="1411" dy="11.5">na úrovni</tspan><tspan x="1411" dy="11.5">veřejných</tspan><tspan x="1411" dy="11.5">institucí</tspan></text></g>
<g id="n82" class="nd hpk"><rect x="1253" y="1105" width="94" height="83"/><text x="1300" y="1120.75"><tspan x="1300">Vhodně</tspan><tspan x="1300" dy="11.5">nastavený</tspan><tspan x="1300" dy="11.5">systém</tspan><tspan x="1300" dy="11.5">vymáhání</tspan><tspan x="1300" dy="11.5">pohledávek vůči</tspan><tspan x="1300" dy="11.5">obci</tspan></text></g>
<g id="n83" class="nd lgr"><rect x="828" y="1175" width="92" height="85"/><text x="874" y="1197.5"><tspan x="874">Neznalost nebo</tspan><tspan x="874" dy="11.5">nedostupnost</tspan><tspan x="874" dy="11.5">databáze</tspan><tspan x="874" dy="11.5">příkladů dobré</tspan><tspan x="874" dy="11.5">praxe</tspan></text></g>
<g id="n84" class="nd lgr"><rect x="827" y="1270" width="95" height="90"/><text x="874.5" y="1306.5"><tspan x="874.5">Neschopnost</tspan><tspan x="874.5" dy="11.5">aplikace dobré</tspan><tspan x="874.5" dy="11.5">praxe</tspan></text></g>
<g id="n85" class="nd lor"><rect x="979" y="1193" width="89" height="87"/><text x="1023.5" y="1228"><tspan x="1023.5">Dostatečná</tspan><tspan x="1023.5" dy="11.5">znalostní</tspan><tspan x="1023.5" dy="11.5">podpora</tspan></text></g>
<g id="n86" class="nd lor"><rect x="973" y="1323" width="94" height="85"/><text x="1020" y="1357"><tspan x="1020">Dostatečná</tspan><tspan x="1020" dy="11.5">motivace ke</tspan><tspan x="1020" dy="11.5">změně</tspan></text></g>
<g id="n87" class="nd lbl"><rect x="1158" y="1237" width="97" height="86"/><text x="1206.5" y="1260"><tspan x="1206.5">Využívání</tspan><tspan x="1206.5" dy="11.5">motivačních</tspan><tspan x="1206.5" dy="11.5">nástrojů při</tspan><tspan x="1206.5" dy="11.5">interním</tspan><tspan x="1206.5" dy="11.5">vymáhání</tspan></text></g>
<g id="n88" class="nd lor"><rect x="1288" y="1272" width="94" height="83"/><text x="1335" y="1293.5"><tspan x="1335">Zohlednění</tspan><tspan x="1335" dy="11.5">všech dopadů -</tspan><tspan x="1335" dy="11.5">ekonomických,</tspan><tspan x="1335" dy="11.5">sociálních i</tspan><tspan x="1335" dy="11.5">společenských</tspan></text></g>
<g id="n89" class="nd lbl"><rect x="1425" y="1235" width="89" height="87"/><text x="1469.5" y="1264.25"><tspan x="1469.5">Minimalizace</tspan><tspan x="1469.5" dy="11.5">využívání</tspan><tspan x="1469.5" dy="11.5">3.osob při</tspan><tspan x="1469.5" dy="11.5">vymáhání</tspan></text></g>
<g id="n90" class="nd lgr"><rect x="1198" y="1407" width="90" height="86"/><text x="1243" y="1435.75"><tspan x="1243">Negativní</tspan><tspan x="1243" dy="11.5">finanční</tspan><tspan x="1243" dy="11.5">dopady na</tspan><tspan x="1243" dy="11.5">úrovni obce</tspan></text></g>
<g id="n91" class="nd lgr"><rect x="1345" y="1407" width="92" height="86"/><text x="1391" y="1424.25"><tspan x="1391">Dostatečná</tspan><tspan x="1391" dy="11.5">znalost</tspan><tspan x="1391" dy="11.5">negativních</tspan><tspan x="1391" dy="11.5">sociálních i</tspan><tspan x="1391" dy="11.5">finačních</tspan><tspan x="1391" dy="11.5">důsledků</tspan></text></g>
<g id="n92" class="nd lgr"><rect x="900" y="1452" width="91" height="83"/><text x="945.5" y="1485"><tspan x="945.5">Vnímání</tspan><tspan x="945.5" dy="11.5">příležitostí ke</tspan><tspan x="945.5" dy="11.5">zvýšení výnosu</tspan></text></g>
<g id="n93" class="nd lgr"><rect x="1007" y="1453" width="90" height="89"/><text x="1052" y="1483.25"><tspan x="1052">Dobrá</tspan><tspan x="1052" dy="11.5">historická</tspan><tspan x="1052" dy="11.5">zkušenost s</tspan><tspan x="1052" dy="11.5">dlužníky</tspan></text></g>
<g id="n94" class="nd lbl"><rect x="2154" y="367" width="88" height="83"/><text x="2198" y="394.25"><tspan x="2198">Minimalizace</tspan><tspan x="2198" dy="11.5">případů</tspan><tspan x="2198" dy="11.5">neplacení</tspan><tspan x="2198" dy="11.5">výživného</tspan></text></g>
<g id="n95" class="nd lbl"><rect x="1788" y="462" width="88" height="81"/><text x="1832" y="494"><tspan x="1832">Dostatečný</tspan><tspan x="1832" dy="11.5">pracovní</tspan><tspan x="1832" dy="11.5">příjem *</tspan></text></g>
<g id="n96" class="nd lbl"><rect x="1880" y="462" width="88" height="81"/><text x="1924" y="494"><tspan x="1924">Dostatečný</tspan><tspan x="1924" dy="11.5">nepracovní</tspan><tspan x="1924" dy="11.5">příjem *</tspan></text></g>
<g id="n97" class="nd lbl"><rect x="1974" y="462" width="86" height="81"/><text x="2017" y="488.25"><tspan x="2017">Správně</tspan><tspan x="2017" dy="11.5">nastavená a</tspan><tspan x="2017" dy="11.5">fungující</tspan><tspan x="2017" dy="11.5">legislativa</tspan></text></g>
<g id="n98" class="nd lbl"><rect x="2066" y="462" width="87" height="81"/><text x="2109.5" y="494"><tspan x="2109.5">Připravenost</tspan><tspan x="2109.5" dy="11.5">na negativní</tspan><tspan x="2109.5" dy="11.5">životní událost</tspan></text></g>
<g id="n99" class="nd lbl"><rect x="2155" y="462" width="88" height="81"/><text x="2199" y="488.25"><tspan x="2199">Výpadky ve</tspan><tspan x="2199" dy="11.5">výplatách</tspan><tspan x="2199" dy="11.5">dávek sociální</tspan><tspan x="2199" dy="11.5">podpory</tspan></text></g>
<g id="n100" class="nd gry"><rect x="1881" y="613" width="94" height="87"/><text x="1928" y="636.5"><tspan x="1928">Existence</tspan><tspan x="1928" dy="11.5">ochrany</tspan><tspan x="1928" dy="11.5">nezabavitelných</tspan><tspan x="1928" dy="11.5">prostředků na</tspan><tspan x="1928" dy="11.5">účtu v exekuci</tspan></text></g>
<g id="n101" class="nd gry"><rect x="1885" y="723" width="88" height="82"/><text x="1929" y="755.5"><tspan x="1929">Vysokoprahová</tspan><tspan x="1929" dy="11.5">možnost</tspan><tspan x="1929" dy="11.5">oddlužení</tspan></text></g>
<g id="n102" class="nd gry"><rect x="1885" y="820" width="88" height="80"/><text x="1929" y="851.5"><tspan x="1929">Dobře</tspan><tspan x="1929" dy="11.5">legislativně</tspan><tspan x="1929" dy="11.5">upravené SJM</tspan></text></g>
<g id="n103" class="nd gry"><rect x="1887" y="915" width="88" height="90"/><text x="1931" y="934.25"><tspan x="1931">Minimální</tspan><tspan x="1931" dy="11.5">doba blokace</tspan><tspan x="1931" dy="11.5">společného</tspan><tspan x="1931" dy="11.5">účtu při úmrtí</tspan><tspan x="1931" dy="11.5">jednoho z</tspan><tspan x="1931" dy="11.5">manželů</tspan></text></g>
<g id="n104" class="nd gry"><rect x="2047" y="617" width="90" height="81"/><text x="2092" y="654.75"><tspan x="2092">Dostatečná</tspan><tspan x="2092" dy="11.5">míra úspor</tspan></text></g>
<g id="n105" class="nd gry"><rect x="2047" y="703" width="90" height="80"/><text x="2092" y="740.25"><tspan x="2092">Existence</tspan><tspan x="2092" dy="11.5">pojištění</tspan></text></g>
<g id="n106" class="nd gry"><rect x="2048" y="788" width="90" height="80"/><text x="2093" y="813.75"><tspan x="2093">Existence a</tspan><tspan x="2093" dy="11.5">dostupnost</tspan><tspan x="2093" dy="11.5">sociálního</tspan><tspan x="2093" dy="11.5">úvěru</tspan></text></g>
<g id="n107" class="nd gry"><rect x="2047" y="873" width="91" height="82"/><text x="2092.5" y="899.75"><tspan x="2092.5">Rychlá a</tspan><tspan x="2092.5" dy="11.5">dostupná</tspan><tspan x="2092.5" dy="11.5">možnost využití</tspan><tspan x="2092.5" dy="11.5">MOP</tspan></text></g>
<g id="n108" class="nd gry"><rect x="2152" y="615" width="90" height="83"/><text x="2197" y="653.75"><tspan x="2197">Vynutitelnost</tspan><tspan x="2197" dy="11.5">včasné výplaty</tspan></text></g>
<g id="n109" class="nd gry"><rect x="2156" y="710" width="90" height="82"/><text x="2201" y="736.75"><tspan x="2201">Existence</tspan><tspan x="2201" dy="11.5">sankcí  za</tspan><tspan x="2201" dy="11.5">opožděné</tspan><tspan x="2201" dy="11.5">výplaty</tspan></text></g>
</svg>
